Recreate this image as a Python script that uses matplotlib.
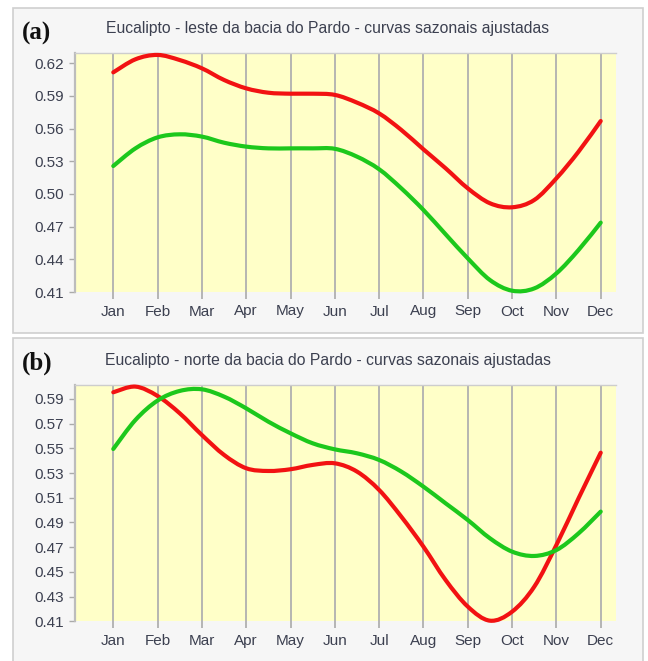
import numpy as np
import matplotlib
matplotlib.use("Agg")
import matplotlib.pyplot as plt
from matplotlib.patches import Rectangle, PathPatch
from matplotlib.path import Path

# Month labels and half-month sampling of the fitted seasonal curves
months = ["Jan", "Feb", "Mar", "Apr", "May", "Jun",
          "Jul", "Aug", "Sep", "Oct", "Nov", "Dec"]
sample_pos = np.arange(0, 11.01, 0.5)

# (a) Eucalipto - leste da bacia do Pardo
leste_red = [0.6117, 0.6237, 0.6277, 0.6230, 0.6154, 0.6047, 0.5970, 0.5930,
             0.5921, 0.5921, 0.5910, 0.5839, 0.5740, 0.5588, 0.5410, 0.5236,
             0.5052, 0.4915, 0.4878, 0.4945, 0.5144, 0.5389, 0.5670]
leste_green = [0.5257, 0.5419, 0.5520, 0.5548, 0.5527, 0.5471, 0.5435, 0.5419,
               0.5419, 0.5419, 0.5415, 0.5343, 0.5227, 0.5052, 0.4853, 0.4630,
               0.4409, 0.4210, 0.4112, 0.4133, 0.4271, 0.4486, 0.4737]

# (b) Eucalipto - norte da bacia do Pardo
norte_red = [0.5954, 0.6000, 0.5924, 0.5784, 0.5608, 0.5447, 0.5339, 0.5317,
             0.5331, 0.5366, 0.5379, 0.5312, 0.5163, 0.4947, 0.4704, 0.4434,
             0.4219, 0.4105, 0.4178, 0.4380, 0.4718, 0.5096, 0.5465]
norte_green = [0.5495, 0.5730, 0.5887, 0.5965, 0.5978, 0.5919, 0.5824, 0.5716,
               0.5622, 0.5541, 0.5492, 0.5460, 0.5406, 0.5312, 0.5190, 0.5055,
               0.4920, 0.4772, 0.4664, 0.4629, 0.4677, 0.4812, 0.4988]

leste_yticks = [0.41, 0.44, 0.47, 0.50, 0.53, 0.56, 0.59, 0.62]
norte_yticks = [0.41, 0.43, 0.45, 0.47, 0.49, 0.51, 0.53, 0.55, 0.57, 0.59]

titles = ["Eucalipto - leste da bacia do Pardo - curvas sazonais ajustadas",
          "Eucalipto - norte da bacia do Pardo - curvas sazonais ajustadas"]
letters = ["(a)", "(b)"]

W, H = 648, 661
fig = plt.figure(figsize=(W / 100, H / 100), dpi=100)
fig.patch.set_facecolor("white")

SANS = ["Liberation Sans", "DejaVu Sans"]
SERIF = ["Liberation Serif", "DejaVu Serif"]
TXT = "#3c4050"
YELLOW = "#ffffc8"
RED = "#f21212"
GREEN = "#1cc81c"


def px_rect(x0, y0, x1, y1):
    """Figure-fraction rectangle from pixel corners (top-left origin)."""
    return [x0 / W, 1 - y1 / H, (x1 - x0) / W, (y1 - y0) / H]


def smooth_path(x, y):
    """Cubic Bezier path through every sample (Catmull-Rom tangents)."""
    pts = np.column_stack([x, y]).astype(float)
    ext = np.vstack([pts[0], pts, pts[-1]])
    verts = [pts[0]]
    codes = [Path.MOVETO]
    for k in range(len(pts) - 1):
        p0, p1, p2, p3 = ext[k], ext[k + 1], ext[k + 2], ext[k + 3]
        verts += [p1 + (p2 - p0) / 6.0, p2 - (p3 - p1) / 6.0, p2]
        codes += [Path.CURVE4] * 3
    return Path(verts, codes)


# Panel frames
for (y0, y1) in [(8.3, 332.5), (338.3, 700)]:
    fig.add_artist(Rectangle((13.3 / W, 1 - y1 / H), (643.3 - 13.3) / W,
                             (y1 - y0) / H, transform=fig.transFigure,
                             facecolor="#f6f6f6", edgecolor="#cfcfcf",
                             linewidth=1.2, zorder=0))

panels = [
    dict(rect=px_rect(75, 53.3, 616, 292.0), ylim=(0.41, 0.6292),
         yticks=leste_yticks, red=leste_red, green=leste_green,
         title_y=29, letter_y=33),
    dict(rect=px_rect(75, 385.0, 616, 621.3), ylim=(0.41, 0.6013),
         yticks=norte_yticks, red=norte_red, green=norte_green,
         title_y=360, letter_y=363),
]

for i, p in enumerate(panels):
    ax = fig.add_axes(p["rect"])
    ax.set_facecolor(YELLOW)
    ax.set_xlim(-0.864, 11.345)
    ax.set_ylim(*p["ylim"])

    ax.set_xticks(range(12))
    ax.set_xticklabels(months)
    ax.set_yticks(p["yticks"])
    ax.set_yticklabels([f"{v:.2f}" for v in p["yticks"]])

    ax.xaxis.grid(True, color="#b0b0b0", linewidth=1.3)
    ax.set_axisbelow(True)

    for side in ["right", "bottom"]:
        ax.spines[side].set_visible(False)
    ax.spines["left"].set_color("#bcbcbc")
    ax.spines["left"].set_linewidth(1.6)
    ax.spines["top"].set_color("#cdcdcd")
    ax.spines["top"].set_linewidth(1.0)

    ax.tick_params(axis="x", length=5, width=1.2, color="#aaaaaa",
                   pad=4, labelsize=11, labelcolor=TXT)
    ax.tick_params(axis="y", length=4, width=1.0, color="#aaaaaa",
                   pad=4, labelsize=11, labelcolor=TXT)
    for lab in ax.get_xticklabels() + ax.get_yticklabels():
        lab.set_family(SANS)

    for series, col in [(p["red"], RED), (p["green"], GREEN)]:
        ax.add_patch(PathPatch(smooth_path(sample_pos, series), fill=False,
                               edgecolor=col, linewidth=3.0,
                               capstyle="round", joinstyle="round",
                               zorder=3, clip_on=False))

    fig.text(328 / W, 1 - p["title_y"] / H, titles[i], ha="center",
             va="center", fontsize=11.3, color=TXT, family=SANS)
    fig.text(22 / W, 1 - p["letter_y"] / H, letters[i], ha="left",
             va="center", fontsize=18, fontweight="bold", color="#111111",
             family=SERIF)

fig.savefig("out.png", dpi=100, facecolor=fig.get_facecolor())
